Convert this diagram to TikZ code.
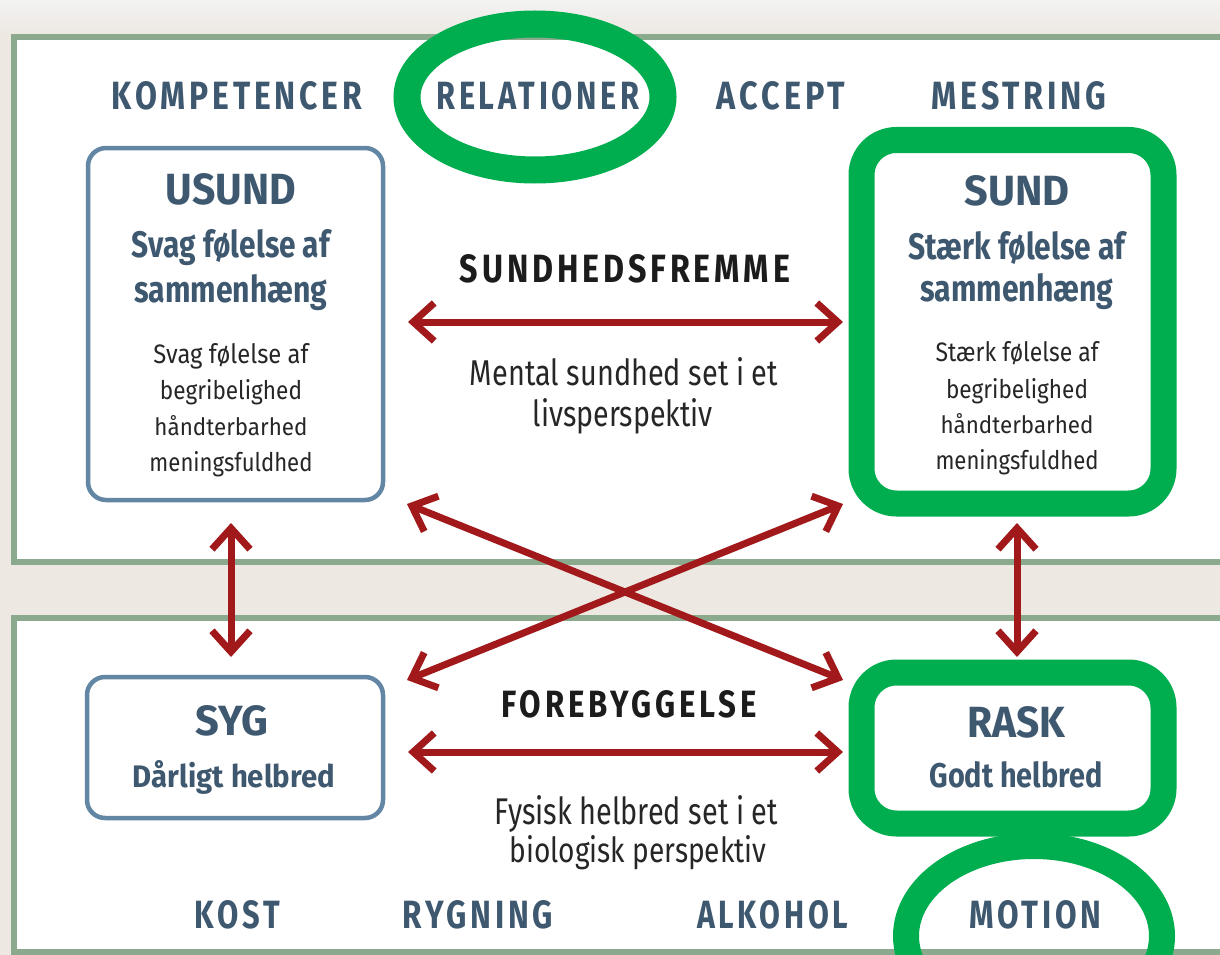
\documentclass[tikz,border=0pt]{standalone}
\usepackage{fontspec}
\usepackage{graphicx}
\setmainfont{Fira Sans}
\newfontfamily\capsfont[LetterSpace=12]{Fira Sans}
\usetikzlibrary{arrows.meta,shapes.geometric}
\definecolor{bgbeige}{HTML}{EDE8E2}
\definecolor{bgtop}{HTML}{F3F3F3}
\definecolor{panelgreen}{HTML}{8BA98C}
\definecolor{slate}{HTML}{3E5870}
\definecolor{boxblue}{HTML}{6286A3}
\definecolor{arrowred}{HTML}{A2191C}
\definecolor{hlgreen}{HTML}{00AE4F}
\definecolor{darktext}{HTML}{262626}
\definecolor{headtext}{HTML}{1C1C1C}
\newcommand\fitt[3]{\resizebox{#1pt}{#2pt}{#3}}
\tikzset{
  lbl/.style={anchor=base, inner sep=0pt, outer sep=0pt},
  toplbl/.style={lbl, text=slate},
  titl/.style={lbl, text=slate},
  subl/.style={lbl, text=slate},
  small/.style={lbl, text=darktext},
  desc/.style={lbl, text=darktext},
  headl/.style={lbl, text=headtext},
  panel/.style={draw=panelgreen, line width=6pt, fill=white},
  bluebox/.style={rectangle, draw=boxblue, line width=4.5pt, rounded corners=18pt, fill=white, inner sep=0pt},
  greenbox/.style={rectangle, draw=hlgreen, line width=26pt, rounded corners=35pt, fill=white, inner sep=0pt},
  greenring/.style={ellipse, draw=hlgreen, inner sep=0pt},
  redarrow/.style={draw=arrowred, line width=7pt,
    {Straight Barb[length=21pt,width=38pt]}-{Straight Barb[length=21pt,width=38pt]}}
}
\begin{document}
\begin{tikzpicture}[x=1pt,y=-1pt]
\useasboundingbox (0,0) rectangle (1220,955);
\clip (0,0) rectangle (1220,955);
% background
\fill[bgbeige] (0,0) rectangle (1220,955);
\shade[top color=bgtop, bottom color=bgbeige] (0,0) rectangle (1220,34);
% panels
\draw[panel] (14,37) rectangle (1240,562);
\draw[panel] (14,618) rectangle (1240,952);
% boxes
\node[bluebox, minimum width=295pt, minimum height=352pt] (usund) at (235.5,324) {};
\node[bluebox, minimum width=296pt, minimum height=141pt] (syg) at (235,747.5) {};
\node[greenbox, minimum width=302pt, minimum height=363.5pt] (sund) at (1012.5,321.75) {};
\node[greenbox, minimum width=302pt, minimum height=151pt] (rask) at (1012.5,748) {};
% highlight ellipses
\node[greenring, line width=27pt, minimum width=256pt, minimum height=146pt] (ellrel) at (535,97) {};
\node[greenring, line width=26pt, minimum width=256pt, minimum height=180pt] (ellmot) at (1034,936) {};
% top labels
\node[toplbl] (kom) at (237,110) {\fitt{250}{28}{\capsfont\bfseries KOMPETENCER}};
\node[toplbl] (rel) at (538,110) {\fitt{203}{28}{\capsfont\bfseries RELATIONER}};
\node[toplbl] (acc) at (781,110) {\fitt{128}{28}{\capsfont\bfseries ACCEPT}};
\node[toplbl] (mes) at (1019,110) {\fitt{175}{28}{\capsfont\bfseries MESTRING}};
% USUND texts
\node[titl] (usundt) at (231,204) {\fitt{130}{31}{\bfseries USUND}};
\node[subl] (usund1) at (231,257) {\fitt{198}{28}{\bfseries Svag følelse af}};
\node[subl] (usund2) at (231,302) {\fitt{193}{28}{\bfseries sammenhæng}};
\node[small] (usund3) at (231,363) {\fitt{155}{20}{Svag følelse af}};
\node[small] (usund4) at (231,399) {\fitt{142}{20}{begribelighed}};
\node[small] (usund5) at (231,435) {\fitt{153}{20}{håndterbarhed}};
\node[small] (usund6) at (231,471) {\fitt{163}{20}{meningsfuldhed}};
% SUND texts
\node[titl] (sundt) at (1017,205) {\fitt{105}{30}{\bfseries SUND}};
\node[subl] (sund1) at (1017,259) {\fitt{217}{28}{\bfseries Stærk følelse af}};
\node[subl] (sund2) at (1017,301) {\fitt{193}{28}{\bfseries sammenhæng}};
\node[small] (sund3) at (1017,361) {\fitt{163}{20}{Stærk følelse af}};
\node[small] (sund4) at (1017,398) {\fitt{142}{20}{begribelighed}};
\node[small] (sund5) at (1017,433) {\fitt{153}{20}{håndterbarhed}};
\node[small] (sund6) at (1017,469) {\fitt{163}{20}{meningsfuldhed}};
% center texts
\node[headl] (sf) at (625,282) {\fitt{330}{28}{\capsfont\bfseries SUNDHEDSFREMME}};
\node[desc] (ms1) at (624,385) {\fitt{308}{28}{Mental sundhed set i et}};
\node[desc] (ms2) at (623,426) {\fitt{180}{28}{livsperspektiv}};
\node[headl] (fb) at (629,717) {\fitt{255}{27}{\capsfont\bfseries FOREBYGGELSE}};
\node[desc] (fh1) at (636.5,824) {\fitt{283}{29}{Fysisk helbred set i et}};
\node[desc] (fh2) at (638,862) {\fitt{257}{27}{biologisk perspektiv}};
% SYG / RASK texts
\node[titl] (sygt) at (232,735) {\fitt{73}{30}{\bfseries SYG}};
\node[subl] (syg1) at (234,787) {\fitt{202}{27}{\bfseries Dårligt helbred}};
\node[titl] (raskt) at (1016,737) {\fitt{98}{31}{\bfseries RASK}};
\node[subl] (rask1) at (1016,787) {\fitt{173}{26}{\bfseries Godt helbred}};
% bottom labels
\node[toplbl] (kost) at (237.5,928) {\fitt{85}{28}{\capsfont\bfseries KOST}};
\node[toplbl] (ryg) at (478,928) {\fitt{150}{28}{\capsfont\bfseries RYGNING}};
\node[toplbl] (alk) at (772.5,928) {\fitt{151}{28}{\capsfont\bfseries ALKOHOL}};
\node[toplbl] (mot) at (1035.5,928) {\fitt{132}{28}{\capsfont\bfseries MOTION}};
% arrow end points
\coordinate (h1a) at (408,322); \coordinate (h1b) at (843,322);
\coordinate (h2a) at (408,752); \coordinate (h2b) at (843,752);
\coordinate (v1a) at (231,523); \coordinate (v1b) at (231,657);
\coordinate (v2a) at (1017,523); \coordinate (v2b) at (1017,657);
\coordinate (x1a) at (407,504); \coordinate (x1b) at (843,680);
\coordinate (x2a) at (843,504); \coordinate (x2b) at (407,680);
% arrows
\draw[redarrow] (h1a) -- (h1b);
\draw[redarrow] (h2a) -- (h2b);
\draw[redarrow] (v1a) -- (v1b);
\draw[redarrow] (v2a) -- (v2b);
\draw[redarrow] (x1a) -- (x1b);
\draw[redarrow] (x2a) -- (x2b);
\end{tikzpicture}
\end{document}
